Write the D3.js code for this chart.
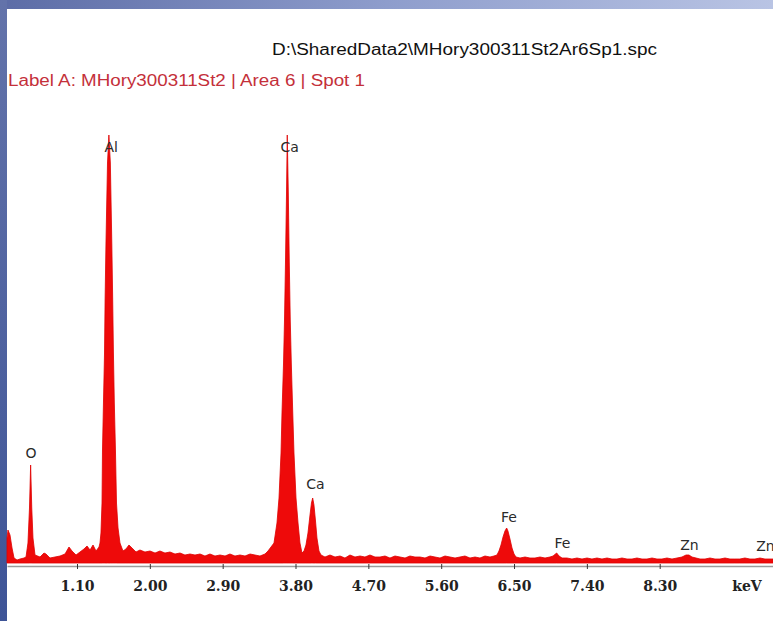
<!DOCTYPE html>
<html>
<head>
<meta charset="utf-8">
<script src="https://cdn.jsdelivr.net/npm/d3@7"></script>
<style>
body { margin: 0; background: #fff; }
</style>
</head>
<body>
<div id="chart"></div>
<script>
// spectrum: energy (keV) and counts
var energies = [0.235,0.247,0.272,0.297,0.322,0.359,0.396,0.445,0.470,0.494,0.513,0.527,0.541,0.556,0.581,
	0.643,0.692,0.717,0.766,0.828,0.890,0.952,1.001,1.038,1.088,1.137,1.186,1.224,1.261,1.298,1.335,1.372,
	1.384,1.396,1.409,1.415,1.427,1.440,1.447,1.458,1.477,1.494,1.512,1.530,1.541,1.550,1.561,1.575,1.588,1.607,1.631,
	1.668,1.705,1.742,1.780,1.829,1.878,1.940,2.002,2.064,2.125,2.187,2.249,2.311,2.373,2.434,2.496,2.558,2.620,
	2.681,2.743,2.805,2.867,2.929,2.990,3.052,3.114,3.176,3.238,3.299,3.361,3.423,3.460,
	3.534,3.571,3.596,3.621,3.633,3.652,3.664,3.676,3.689,3.698,3.711,3.723,3.735,3.748,3.766,3.781,3.806,3.831,3.855,3.880,
	3.905,3.929,3.954,3.979,3.997,4.012,4.028,4.047,4.065,4.090,4.115,
	4.164,4.226,4.288,4.350,4.411,4.473,4.535,4.597,4.658,4.720,4.782,4.844,4.906,4.967,5.029,5.091,5.153,5.214,
	5.276,5.338,5.400,5.462,5.523,5.585,5.647,5.709,5.771,5.832,5.894,5.956,6.018,6.079,6.141,6.203,6.252,
	6.289,6.314,6.339,6.364,6.388,6.409,6.425,6.450,6.475,6.500,6.524,
	6.574,6.636,6.697,6.759,6.821,6.883,6.944,6.982,7.027,7.056,7.093,7.154,7.216,7.278,7.340,7.402,7.463,7.525,
	7.587,7.649,7.710,7.772,7.834,7.896,7.958,8.019,8.081,8.143,8.205,8.266,8.328,8.390,8.452,8.514,8.575,8.625,
	8.662,8.699,8.749,8.798,8.860,8.921,8.983,9.045,9.107,9.168,9.229,9.291,9.353,9.415,9.477,9.539,9.601,9.700];
var counts = [250,330,280,150,50,30,40,50,60,200,550,980,550,250,80,
	60,100,90,50,60,70,90,160,120,80,110,140,170,130,180,120,160,
	200,300,600,1130,1600,2100,2630,3200,4000,4280,4000,3200,2630,2100,1600,1130,600,350,200,
	120,140,180,150,110,130,110,120,100,120,100,110,90,100,80,90,80,90,
	70,90,70,80,70,90,70,80,70,90,80,70,90,120,
	200,400,650,1100,1500,2000,2430,3000,3700,4280,3700,3000,2430,2000,1500,1100,650,400,200,100,
	120,180,300,480,600,650,580,420,250,120,80,
	60,80,60,70,50,80,60,70,60,80,60,60,70,50,70,60,50,70,
	60,60,50,70,60,50,70,60,50,60,70,50,60,50,70,60,70,
	80,120,180,260,320,350,320,240,150,90,60,
	50,60,50,50,60,50,60,70,100,70,50,50,40,50,40,50,40,50,
	40,50,40,40,50,40,40,50,40,40,50,40,40,50,40,50,60,80,
	80,60,50,40,40,50,40,40,50,40,40,40,50,40,40,50,40,40];

// peak markers
var peakNames = ["O", "Al", "Ca", "Ca", "Fe", "Fe", "Zn", "Zn"];
var peakEnergies = [0.525, 1.486, 3.69, 4.01, 6.40, 7.06, 8.63, 9.57];
var peakLabelCounts = [1100, 4160, 4160, 790, 460, 200, 180, 170];

// x axis
var tickValues = [1.10, 2.00, 2.90, 3.80, 4.70, 5.60, 6.50, 7.40, 8.30];
var unitLabel = "keV";

var fileName = "D:\\SharedData2\\MHory300311St2Ar6Sp1.spc";
var labelText = "Label A: MHory300311St2 | Area 6 | Spot 1";

var width = 773, height = 621;

var svg = d3.select("#chart").append("svg")
	.attr("width", width)
	.attr("height", height);

// slide frame gradients
var defs = svg.append("defs");
var topGrad = defs.append("linearGradient").attr("id", "topGrad")
	.attr("x1", "0").attr("y1", "0").attr("x2", "1").attr("y2", "0");
topGrad.append("stop").attr("offset", "0").attr("stop-color", "#5c6ca6");
topGrad.append("stop").attr("offset", "0.5").attr("stop-color", "#8e9dcc");
topGrad.append("stop").attr("offset", "1").attr("stop-color", "#b9c4e4");
var leftGrad = defs.append("linearGradient").attr("id", "leftGrad")
	.attr("x1", "0").attr("y1", "0").attr("x2", "0").attr("y2", "1");
leftGrad.append("stop").attr("offset", "0").attr("stop-color", "#6373aa");
leftGrad.append("stop").attr("offset", "1").attr("stop-color", "#3e5497");

svg.append("rect").attr("x", 0).attr("y", 0).attr("width", width).attr("height", 9)
	.attr("fill", "url(#topGrad)");
svg.append("rect").attr("x", 0).attr("y", 0).attr("width", 7).attr("height", height)
	.attr("fill", "url(#leftGrad)");

// scales
var x = d3.scaleLinear().domain([0.235, 9.70]).range([7, 773]);
var y = d3.scaleLinear().domain([0, 4280]).range([563, 135]);

// header texts
svg.append("text")
	.attr("x", 272).attr("y", 55)
	.attr("textLength", 385).attr("lengthAdjust", "spacingAndGlyphs")
	.attr("font-family", "'Liberation Sans Narrow', 'Liberation Sans', sans-serif")
	.attr("font-size", 16)
	.attr("fill", "#111")
	.text(fileName);
svg.append("text")
	.attr("x", 8).attr("y", 86)
	.attr("textLength", 357).attr("lengthAdjust", "spacingAndGlyphs")
	.attr("font-family", "'Liberation Sans Narrow', 'Liberation Sans', sans-serif")
	.attr("font-size", 16)
	.attr("fill", "#c4303a")
	.text(labelText);

// spectrum area
var spectrum = energies.map(function(e, i) { return [e, counts[i]]; });
var area = d3.area()
	.x(function(d) { return x(d[0]); })
	.y0(y(0))
	.y1(function(d) { return y(d[1]); });
svg.append("path")
	.datum(spectrum)
	.attr("d", area)
	.attr("fill", "#ee0a0a")
	.attr("stroke", "#e00000")
	.attr("stroke-width", 0.8);

// axis
var axis = d3.axisBottom(x)
	.tickValues(tickValues)
	.tickFormat(d3.format(".2f"))
	.tickSizeInner(3)
	.tickSizeOuter(0)
	.tickPadding(12);
var gAxis = svg.append("g")
	.attr("transform", "translate(0,566)")
	.call(axis);
gAxis.select(".domain").attr("stroke", "#9a9a9a").attr("stroke-width", 1.5);
gAxis.selectAll(".tick line").attr("stroke", "#333").attr("y1", -2);
gAxis.selectAll(".tick text")
	.attr("font-family", "'DejaVu Serif', serif")
	.attr("font-weight", "bold")
	.attr("font-size", 14)
	.attr("fill", "#222");
svg.append("text")
	.attr("x", 747).attr("y", 591)
	.attr("text-anchor", "middle")
	.attr("font-family", "'DejaVu Serif', serif")
	.attr("font-weight", "bold")
	.attr("font-size", 14)
	.attr("fill", "#222")
	.text(unitLabel);

// element labels
svg.selectAll(".peak")
	.data(peakNames)
	.enter()
	.append("text")
	.attr("class", "peak")
	.attr("x", function(d, i) { return x(peakEnergies[i]) + (i == 0 ? 0.5 : 3); })
	.attr("y", function(d, i) { return y(peakLabelCounts[i]); })
	.attr("dy", "0.35em")
	.attr("text-anchor", "middle")
	.attr("font-family", "'DejaVu Sans', sans-serif")
	.attr("font-size", 14)
	.attr("fill", "#2a2a2a")
	.text(function(d) { return d; });
</script>
</body>
</html>
